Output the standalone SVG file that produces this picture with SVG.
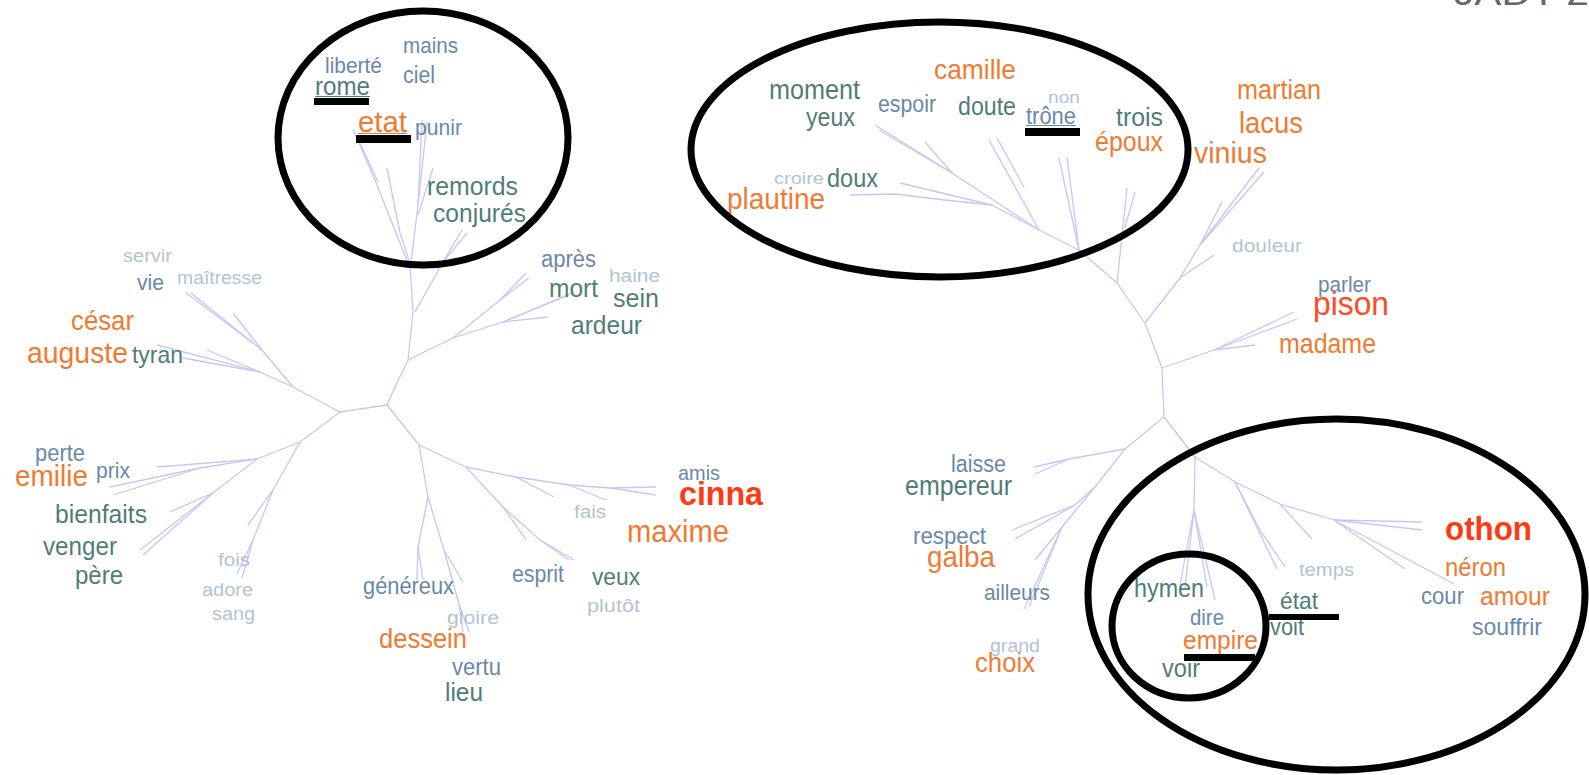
<svg xmlns="http://www.w3.org/2000/svg" width="1589" height="775" viewBox="0 0 1589 775">
<style>
text{font-family:"Liberation Sans",Arial,sans-serif}
.o{fill:#f07a32}.r{fill:#ff3a12;font-weight:bold}.p{fill:#ff4a2a}.t{fill:#4f7d77}.b{fill:#6a88a8}.l{fill:#b4c3d2}
.br{fill:none;stroke:#c6c6f6;stroke-width:1.3;stroke-linejoin:round}
.ring{fill:none;stroke:#000;stroke-width:7}
.bar{fill:#000}
</style>
<rect width="1589" height="775" fill="#fff"/>
<text x="1454" y="5" font-size="33" fill="#666" textLength="135" lengthAdjust="spacingAndGlyphs">JADT 2</text>
<g id="connectors">
<!-- left tree -->
<polyline class="br" points="395,387 408,360 413,312 410,263"/>
<polyline class="br" points="410,263 400,233 387,168"/>
<polyline class="br" points="408,263 375,180 353,129"/>
<polyline class="br" points="378,182 360,143"/>
<polyline class="br" points="411,263 418,205 422,120"/>
<polyline class="br" points="418,205 427,122"/>
<polyline class="br" points="433,168 418,215"/>
<polyline class="br" points="415,312 443,262 462,230"/>
<polyline class="br" points="443,262 467,233"/>
<polyline class="br" points="408,360 453,338 503,322 548,317"/>
<polyline class="br" points="503,322 569,295"/>
<polyline class="br" points="503,322 574,292"/>
<polyline class="br" points="453,338 500,300 526,273"/>
<polyline class="br" points="500,300 529,278"/>
<polyline class="br" points="395,387 387,405 340,412 293,387"/>
<polyline class="br" points="293,387 262,350 233,313"/>
<polyline class="br" points="262,350 253,343 185,292"/>
<polyline class="br" points="253,343 191,293"/>
<polyline class="br" points="293,387 260,372 157,345"/>
<polyline class="br" points="260,372 183,358"/>
<polyline class="br" points="260,372 207,350"/>
<polyline class="br" points="340,412 300,442 257,459 157,467"/>
<polyline class="br" points="257,459 200,468 110,487"/>
<polyline class="br" points="200,468 113,495"/>
<polyline class="br" points="257,459 213,493 170,512"/>
<polyline class="br" points="213,493 140,550"/>
<polyline class="br" points="213,493 143,555"/>
<polyline class="br" points="300,442 273,490 248,525"/>
<polyline class="br" points="273,490 253,540 237,574"/>
<polyline class="br" points="253,540 242,578"/>
<polyline class="br" points="387,405 419,445 428,497 418,547 417,580"/>
<polyline class="br" points="418,547 423,580"/>
<polyline class="br" points="428,497 444,550 463,582"/>
<polyline class="br" points="444,550 459,604 463,632"/>
<polyline class="br" points="459,604 469,632"/>
<polyline class="br" points="419,445 466,467 516,477 569,485 610,488 656,487"/>
<polyline class="br" points="610,488 656,495"/>
<polyline class="br" points="516,477 554,497"/>
<polyline class="br" points="569,485 606,500"/>
<polyline class="br" points="466,467 503,507 526,540"/>
<polyline class="br" points="503,507 540,540 569,560"/>
<polyline class="br" points="540,540 574,560"/>
<!-- right tree -->
<polyline class="br" points="1145,323 1117,283 1079,250 1039,230 992,205 945,200 895,194 850,195"/>
<polyline class="br" points="992,205 900,183"/>
<polyline class="br" points="1039,230 952,173 875,125"/>
<polyline class="br" points="952,173 879,130"/>
<polyline class="br" points="952,173 925,142"/>
<polyline class="br" points="1039,230 989,140"/>
<polyline class="br" points="1024,187 997,138"/>
<polyline class="br" points="1079,250 1059,158"/>
<polyline class="br" points="1079,250 1067,157"/>
<polyline class="br" points="1117,283 1127,188"/>
<polyline class="br" points="1125,227 1135,192"/>
<polyline class="br" points="1145,323 1180,278 1214,255"/>
<polyline class="br" points="1180,278 1200,245 1259,168"/>
<polyline class="br" points="1200,245 1264,172"/>
<polyline class="br" points="1200,245 1222,202"/>
<polyline class="br" points="1145,323 1162,368 1214,350 1255,345"/>
<polyline class="br" points="1214,350 1294,312"/>
<polyline class="br" points="1214,350 1297,319"/>
<polyline class="br" points="1162,368 1164,417 1125,449 1069,459 1034,467"/>
<polyline class="br" points="1069,459 1035,474"/>
<polyline class="br" points="1125,449 1095,487 1075,505 1012,530"/>
<polyline class="br" points="1075,505 1015,539"/>
<polyline class="br" points="1095,487 1062,527 1024,609"/>
<polyline class="br" points="1062,527 1029,607"/>
<polyline class="br" points="1062,527 1035,560"/>
<polyline class="br" points="1164,417 1195,457 1194,510 1180,585"/>
<polyline class="br" points="1194,510 1185,587"/>
<polyline class="br" points="1194,510 1207,587"/>
<polyline class="br" points="1194,510 1215,600"/>
<polyline class="br" points="1195,457 1235,482 1280,504 1334,520 1422,522"/>
<polyline class="br" points="1334,520 1422,530"/>
<polyline class="br" points="1280,504 1312,539"/>
<polyline class="br" points="1334,520 1405,569"/>
<polyline class="br" points="1334,520 1454,584"/>
<polyline class="br" points="1235,482 1277,569"/>
<polyline class="br" points="1235,482 1260,530 1285,567"/>
</g>
<g id="left-words">
<g id="w-mains"><text class="b" x="403" y="53" font-size="22" textLength="55" lengthAdjust="spacingAndGlyphs">mains</text></g>
<g id="w-liberte"><text class="b" x="325" y="73" font-size="22" textLength="57" lengthAdjust="spacingAndGlyphs">liberté</text></g>
<g id="w-ciel"><text class="b" x="403" y="83" font-size="23" textLength="32" lengthAdjust="spacingAndGlyphs">ciel</text></g>
<g id="w-rome"><text class="t" x="315" y="95" font-size="26" textLength="55" lengthAdjust="spacingAndGlyphs">rome</text><rect x="315" y="96" width="55" height="1" fill="#4f7d77"/></g>
<g id="w-etat"><text class="o" x="358" y="132" font-size="30" textLength="49" lengthAdjust="spacingAndGlyphs">etat</text><rect x="358" y="133" width="49" height="1" fill="#f07a32"/></g>
<g id="w-punir"><text class="b" x="415" y="135" font-size="22" textLength="47" lengthAdjust="spacingAndGlyphs">punir</text></g>
<g id="w-remords"><text class="t" x="427" y="195" font-size="26" textLength="91" lengthAdjust="spacingAndGlyphs">remords</text></g>
<g id="w-conjures"><text class="t" x="433" y="222" font-size="26" textLength="93" lengthAdjust="spacingAndGlyphs">conjurés</text></g>
<g id="w-servir"><text class="l" x="123" y="262" font-size="18" textLength="49" lengthAdjust="spacingAndGlyphs">servir</text></g>
<g id="w-vie"><text class="b" x="137" y="290" font-size="22" textLength="27" lengthAdjust="spacingAndGlyphs">vie</text></g>
<g id="w-maitresse"><text class="l" x="177" y="284" font-size="19" textLength="85" lengthAdjust="spacingAndGlyphs">maîtresse</text></g>
<g id="w-cesar"><text class="o" x="71" y="330" font-size="27" textLength="63" lengthAdjust="spacingAndGlyphs">césar</text></g>
<g id="w-auguste"><text class="o" x="27" y="363" font-size="30" textLength="101" lengthAdjust="spacingAndGlyphs">auguste</text></g>
<g id="w-tyran"><text class="t" x="132" y="363" font-size="24" textLength="51" lengthAdjust="spacingAndGlyphs">tyran</text></g>
<g id="w-apres"><text class="b" x="541" y="267" font-size="23" textLength="55" lengthAdjust="spacingAndGlyphs">après</text></g>
<g id="w-haine"><text class="l" x="609" y="282" font-size="18" textLength="51" lengthAdjust="spacingAndGlyphs">haine</text></g>
<g id="w-mort"><text class="t" x="549" y="297" font-size="26" textLength="49" lengthAdjust="spacingAndGlyphs">mort</text></g>
<g id="w-sein"><text class="t" x="613" y="307" font-size="26" textLength="46" lengthAdjust="spacingAndGlyphs">sein</text></g>
<g id="w-ardeur"><text class="t" x="571" y="334" font-size="26" textLength="71" lengthAdjust="spacingAndGlyphs">ardeur</text></g>
<g id="w-perte"><text class="b" x="35" y="461" font-size="23" textLength="50" lengthAdjust="spacingAndGlyphs">perte</text></g>
<g id="w-emilie"><text class="o" x="15" y="486" font-size="30" textLength="73" lengthAdjust="spacingAndGlyphs">emilie</text></g>
<g id="w-prix"><text class="b" x="96" y="478" font-size="22" textLength="34" lengthAdjust="spacingAndGlyphs">prix</text></g>
<g id="w-bienfaits"><text class="t" x="55" y="523" font-size="26" textLength="92" lengthAdjust="spacingAndGlyphs">bienfaits</text></g>
<g id="w-venger"><text class="t" x="43" y="555" font-size="26" textLength="74" lengthAdjust="spacingAndGlyphs">venger</text></g>
<g id="w-pere"><text class="t" x="75" y="584" font-size="26" textLength="48" lengthAdjust="spacingAndGlyphs">père</text></g>
<g id="w-fois"><text class="l" x="218" y="566" font-size="18" textLength="32" lengthAdjust="spacingAndGlyphs">fois</text></g>
<g id="w-adore"><text class="l" x="202" y="596" font-size="18" textLength="51" lengthAdjust="spacingAndGlyphs">adore</text></g>
<g id="w-sang"><text class="l" x="212" y="620" font-size="18" textLength="43" lengthAdjust="spacingAndGlyphs">sang</text></g>
<g id="w-genereux"><text class="b" x="363" y="594" font-size="23" textLength="91" lengthAdjust="spacingAndGlyphs">généreux</text></g>
<g id="w-gloire"><text class="l" x="447" y="624" font-size="18" textLength="52" lengthAdjust="spacingAndGlyphs">gloire</text></g>
<g id="w-dessein"><text class="o" x="379" y="648" font-size="27" textLength="88" lengthAdjust="spacingAndGlyphs">dessein</text></g>
<g id="w-vertu"><text class="b" x="452" y="675" font-size="23" textLength="49" lengthAdjust="spacingAndGlyphs">vertu</text></g>
<g id="w-lieu"><text class="t" x="445" y="701" font-size="26" textLength="38" lengthAdjust="spacingAndGlyphs">lieu</text></g>
<g id="w-amis"><text class="b" x="678" y="480" font-size="21" textLength="42" lengthAdjust="spacingAndGlyphs">amis</text></g>
<g id="w-cinna"><text class="r" x="679" y="505" font-size="33" textLength="84" lengthAdjust="spacingAndGlyphs">cinna</text></g>
<g id="w-fais"><text class="l" x="574" y="518" font-size="18" textLength="32" lengthAdjust="spacingAndGlyphs">fais</text></g>
<g id="w-maxime"><text class="o" x="627" y="542" font-size="31" textLength="102" lengthAdjust="spacingAndGlyphs">maxime</text></g>
<g id="w-esprit"><text class="b" x="512" y="582" font-size="23" textLength="52" lengthAdjust="spacingAndGlyphs">esprit</text></g>
<g id="w-veux"><text class="t" x="592" y="585" font-size="24" textLength="48" lengthAdjust="spacingAndGlyphs">veux</text></g>
<g id="w-plutot"><text class="l" x="587" y="612" font-size="19" textLength="53" lengthAdjust="spacingAndGlyphs">plutôt</text></g>
</g>
<g id="right-words">
<g id="w-camille"><text class="o" x="934" y="79" font-size="28" textLength="82" lengthAdjust="spacingAndGlyphs">camille</text></g>
<g id="w-moment"><text class="t" x="769" y="99" font-size="27" textLength="91" lengthAdjust="spacingAndGlyphs">moment</text></g>
<g id="w-yeux"><text class="t" x="806" y="126" font-size="25" textLength="49" lengthAdjust="spacingAndGlyphs">yeux</text></g>
<g id="w-espoir"><text class="b" x="878" y="112" font-size="23" textLength="58" lengthAdjust="spacingAndGlyphs">espoir</text></g>
<g id="w-doute"><text class="t" x="958" y="115" font-size="25" textLength="58" lengthAdjust="spacingAndGlyphs">doute</text></g>
<g id="w-non"><text class="l" x="1048" y="103" font-size="17" textLength="32" lengthAdjust="spacingAndGlyphs">non</text></g>
<g id="w-trone"><text class="b" x="1026" y="124" font-size="23" textLength="50" lengthAdjust="spacingAndGlyphs">trône</text><rect x="1026" y="125" width="50" height="1" fill="#6a88a8"/></g>
<g id="w-trois"><text class="t" x="1116" y="126" font-size="26" textLength="47" lengthAdjust="spacingAndGlyphs">trois</text></g>
<g id="w-epoux"><text class="o" x="1095" y="151" font-size="27" textLength="68" lengthAdjust="spacingAndGlyphs">époux</text></g>
<g id="w-croire"><text class="l" x="774" y="184" font-size="17" textLength="50" lengthAdjust="spacingAndGlyphs">croire</text></g>
<g id="w-doux"><text class="t" x="827" y="187" font-size="25" textLength="51" lengthAdjust="spacingAndGlyphs">doux</text></g>
<g id="w-plautine"><text class="o" x="727" y="209" font-size="30" textLength="98" lengthAdjust="spacingAndGlyphs">plautine</text></g>
<g id="w-martian"><text class="o" x="1237" y="99" font-size="27" textLength="84" lengthAdjust="spacingAndGlyphs">martian</text></g>
<g id="w-lacus"><text class="o" x="1239" y="133" font-size="29" textLength="64" lengthAdjust="spacingAndGlyphs">lacus</text></g>
<g id="w-vinius"><text class="o" x="1194" y="163" font-size="30" textLength="73" lengthAdjust="spacingAndGlyphs">vinius</text></g>
<g id="w-douleur"><text class="l" x="1232" y="252" font-size="18" textLength="70" lengthAdjust="spacingAndGlyphs">douleur</text></g>
<g id="w-parler"><text class="b" x="1318" y="292" font-size="22" textLength="53" lengthAdjust="spacingAndGlyphs">parler</text></g>
<g id="w-pison"><text class="p" x="1313" y="315" font-size="33" textLength="76" lengthAdjust="spacingAndGlyphs">pison</text></g>
<g id="w-madame"><text class="o" x="1279" y="353" font-size="27" textLength="97" lengthAdjust="spacingAndGlyphs">madame</text></g>
<g id="w-laisse"><text class="b" x="951" y="472" font-size="23" textLength="55" lengthAdjust="spacingAndGlyphs">laisse</text></g>
<g id="w-empereur"><text class="t" x="905" y="495" font-size="27" textLength="107" lengthAdjust="spacingAndGlyphs">empereur</text></g>
<g id="w-respect"><text class="b" x="913" y="544" font-size="24" textLength="73" lengthAdjust="spacingAndGlyphs">respect</text></g>
<g id="w-galba"><text class="o" x="927" y="567" font-size="30" textLength="68" lengthAdjust="spacingAndGlyphs">galba</text></g>
<g id="w-ailleurs"><text class="b" x="984" y="600" font-size="22" textLength="66" lengthAdjust="spacingAndGlyphs">ailleurs</text></g>
<g id="w-grand"><text class="l" x="990" y="652" font-size="18" textLength="50" lengthAdjust="spacingAndGlyphs">grand</text></g>
<g id="w-choix"><text class="o" x="975" y="672" font-size="27" textLength="60" lengthAdjust="spacingAndGlyphs">choix</text></g>
<g id="w-othon"><text class="r" x="1445" y="540" font-size="33" textLength="87" lengthAdjust="spacingAndGlyphs">othon</text></g>
<g id="w-temps"><text class="l" x="1299" y="576" font-size="18" textLength="55" lengthAdjust="spacingAndGlyphs">temps</text></g>
<g id="w-neron"><text class="o" x="1445" y="576" font-size="25" textLength="61" lengthAdjust="spacingAndGlyphs">néron</text></g>
<g id="w-hymen"><text class="t" x="1134" y="597" font-size="25" textLength="70" lengthAdjust="spacingAndGlyphs">hymen</text></g>
<g id="w-etat2"><text class="t" x="1280" y="609" font-size="24" textLength="38" lengthAdjust="spacingAndGlyphs">état</text></g>
<g id="w-cour"><text class="b" x="1421" y="604" font-size="23" textLength="43" lengthAdjust="spacingAndGlyphs">cour</text></g>
<g id="w-amour"><text class="o" x="1480" y="605" font-size="26" textLength="70" lengthAdjust="spacingAndGlyphs">amour</text></g>
<g id="w-dire"><text class="b" x="1190" y="625" font-size="22" textLength="34" lengthAdjust="spacingAndGlyphs">dire</text></g>
<g id="w-voit"><text class="t" x="1270" y="635" font-size="23" textLength="34" lengthAdjust="spacingAndGlyphs">voit</text></g>
<g id="w-souffrir"><text class="b" x="1472" y="635" font-size="24" textLength="70" lengthAdjust="spacingAndGlyphs">souffrir</text></g>
<g id="w-empire"><text class="o" x="1183" y="649" font-size="26" textLength="75" lengthAdjust="spacingAndGlyphs">empire</text></g>
<g id="w-voir"><text class="t" x="1162" y="677" font-size="25" textLength="38" lengthAdjust="spacingAndGlyphs">voir</text></g>
</g>
<g id="annotations">
<ellipse class="ring" cx="423" cy="138" rx="145" ry="127"/>
<ellipse class="ring" cx="939.5" cy="149.5" rx="248.5" ry="127.5"/>
<ellipse class="ring" cx="1336.5" cy="594.5" rx="248.5" ry="175.5"/>
<ellipse class="ring" cx="1189" cy="626" rx="77" ry="72"/>
<rect class="bar" x="314" y="98" width="55" height="7"/>
<rect class="bar" x="356" y="135" width="55" height="8"/>
<rect class="bar" x="1025" y="128" width="55" height="8"/>
<rect class="bar" x="1269" y="614" width="70" height="6"/>
<rect class="bar" x="1184" y="654" width="71" height="7"/>
</g>
</svg>
